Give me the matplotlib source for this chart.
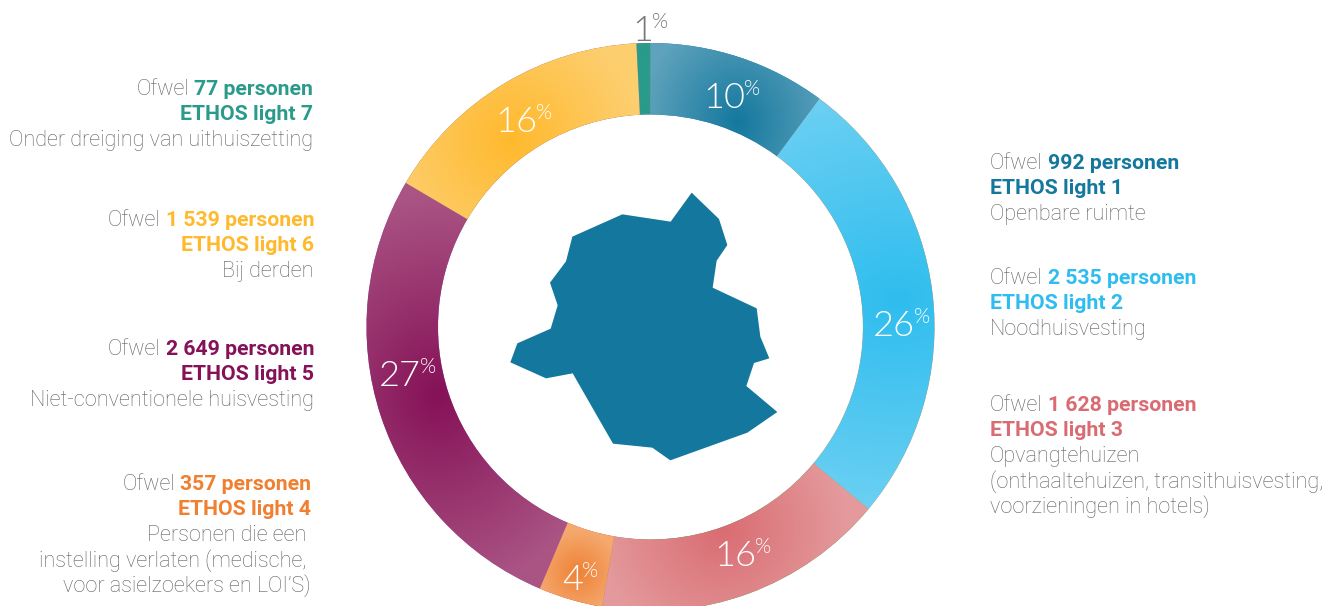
import numpy as np
import matplotlib
matplotlib.use("Agg")
import matplotlib.pyplot as plt
from matplotlib import font_manager as fm
from matplotlib.patches import Polygon

W, H = 1339, 606

personen = [992, 2535, 1628, 357, 2649, 1539, 77]
personen_txt = ["992", "2 535", "1 628", "357", "2 649", "1 539", "77"]
ethos = ["ETHOS light 1", "ETHOS light 2", "ETHOS light 3", "ETHOS light 4",
         "ETHOS light 5", "ETHOS light 6", "ETHOS light 7"]
omschrijving = [
    ["Openbare ruimte"],
    ["Noodhuisvesting"],
    ["Opvangtehuizen", "(onthaaltehuizen, transithuisvesting,", "voorzieningen in hotels)"],
    ["Personen die een", "instelling verlaten (medische,", "voor asielzoekers en LOI\u2019S)"],
    ["Niet-conventionele huisvesting"],
    ["Bij derden"],
    ["Onder dreiging van uithuiszetting"],
]
procent = ["10", "26", "16", "4", "27", "16", "1"]

kleur = ["#14789e", "#2ebdee", "#d96c72", "#ee8236", "#851157", "#ffb92d", "#2a9a8b"]
kleur_rand = ["#5ea2bc", "#6dd0f3", "#e49a9c", "#f5a96e", "#aa5484", "#fdce6e", "#2a9a8b"]
tekst_kleur = ["#14789e", "#2ebdee", "#d96c72", "#f07f30", "#851157", "#ffb92d", "#2a9a8b"]

# gradient centre and radii per segment, in pixels
gradient = [(738, 122, 95, 110), (898, 300, 260, 215), (722, 528, 125, 125), (578, 572, 42, 42),
            (438, 395, 170, 200), (512, 140, 125, 125), (645, 80, 100, 100)]
# text blocks: x, y of first line, side
blok = [(990, 162, "l"), (990, 277, "l"), (990, 404, "l"), (311, 483, "r"),
        (314, 348, "r"), (314, 219, "r"), (313, 88, "r")]
# percentage labels: left x, baseline y
pct_pos = [(703, 108), (873, 336), (714, 566), (562, 590), (379, 386), (495, 132), (632, 41)]

kaart = [(575, 38), (657, 117), (682, 195), (650, 242), (638, 323), (770, 385), (781, 470),
         (808, 535), (762, 549), (739, 618), (832, 696), (742, 758), (511, 841), (457, 803),
         (339, 791), (218, 580), (138, 595), (31, 547), (52, 490), (152, 446), (173, 376),
         (150, 308), (198, 244), (217, 170), (367, 103), (512, 125)]

fig = plt.figure(figsize=(W / 100, H / 100), dpi=100)
ax = fig.add_axes([0, 0, 1, 1])

wedges, _ = ax.pie(personen, startangle=-90, counterclock=True, center=(650.5, 327), radius=284,
                   frame=True, wedgeprops=dict(width=71.5, linewidth=0))

xx, yy = np.meshgrid(np.arange(W) + 0.5, np.arange(H) + 0.5)
for w, c, r, g in zip(wedges, kleur, kleur_rand, gradient):
    t = np.clip(np.sqrt(((xx - g[0]) / g[2]) ** 2 + ((yy - g[1]) / g[3]) ** 2), 0, 1)[..., None]
    rgb = np.array(matplotlib.colors.to_rgb(c)) * (1 - t) + np.array(matplotlib.colors.to_rgb(r)) * t
    im = ax.imshow(rgb, extent=(0, W, H, 0), aspect="auto", zorder=2)
    im.set_clip_path(w)

ax.add_patch(Polygon([(500 + x / 3, 180 + y / 3) for x, y in kaart], closed=True,
                     facecolor="#14789e", edgecolor="none", zorder=3))

ax.set_xlim(0, W)
ax.set_ylim(H, 0)
ax.axis("off")

renderer = fig.canvas.get_renderer()
GRIJS = "#606060"
FS_L = 15.6
FS_B = 15.3


def regel(x, y, txt, ha="left", bold=False, **kw):
    return ax.text(x, y + 7, txt, ha=ha, va="baseline", zorder=5, family="Roboto",
                   fontsize=FS_B if bold else FS_L, fontweight="bold" if bold else "light", **kw)


for i in range(7):
    x, y, kant = blok[i]
    vet = personen_txt[i] + " personen"
    if kant == "l":
        a = regel(x, y, "Ofwel", color=GRIJS)
        x2 = a.get_window_extent(renderer).x1 + 5
        regel(x2, y, vet, bold=True, color=tekst_kleur[i])
        regel(x, y + 25.4, ethos[i], bold=True, color=tekst_kleur[i])
    else:
        b = regel(x, y, vet, ha="right", bold=True, color=tekst_kleur[i])
        x2 = b.get_window_extent(renderer).x0 - 5
        regel(x2, y, "Ofwel", ha="right", color=GRIJS)
        regel(x, y + 25.4, ethos[i], ha="right", bold=True, color=tekst_kleur[i])
    for j, s in enumerate(omschrijving[i]):
        xj = x
        if i == 3 and j < 2:
            xj = x - 5
        regel(xj, y + 51.2 + j * 25.4, s, ha="left" if kant == "l" else "right", color=GRIJS)

lato = [f.fname for f in fm.fontManager.ttflist if f.fname.endswith("Lato-Light.ttf")]
pct_font = dict(fname=lato[0]) if lato else dict(family="Lato")

for i, p in enumerate(procent):
    c = "#777777" if p == "1" else "white"
    t = ax.text(pct_pos[i][0], pct_pos[i][1], p, fontproperties=fm.FontProperties(size=26, **pct_font),
                color=c, va="baseline", ha="left", zorder=6)
    x1 = t.get_window_extent(renderer).x1
    ax.text(x1 - 1, pct_pos[i][1] - 13, "%", fontproperties=fm.FontProperties(size=15, **pct_font),
            color=c, va="baseline", ha="left", zorder=6)

fig.savefig("out.png", dpi=100, facecolor="white")
